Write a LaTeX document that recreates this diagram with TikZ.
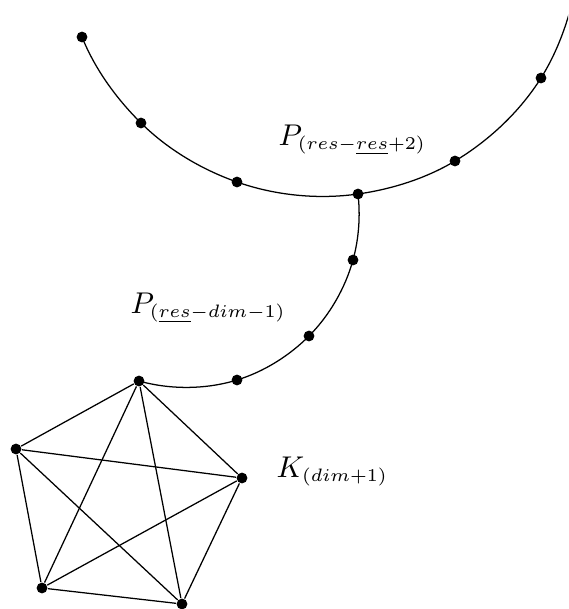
\documentclass[tikz,border=0pt]{standalone}
\DeclareMathSizes{10}{10}{5.7}{5}
\begin{document}
\begin{tikzpicture}[x=0.3333pt,y=-0.3333pt,
  dot/.style={circle,fill=black,inner sep=0pt,minimum size=3.6pt},
  lbl/.style={inner sep=0pt,anchor=base west},
  curve/.style={line width=0.42pt},
  arcseg/.style={looseness=0.85}]
\useasboundingbox (0,0) rectangle (568,609);
\clip (0,0) rectangle (568,609);
% top path
\node[dot] (a1) at (82,37) {};
\node[dot] (a2) at (141,123) {};
\node[dot] (a3) at (237,182) {};
\node[dot] (a4) at (358,194) {};
\node[dot] (a5) at (455,161) {};
\node[dot] (a6) at (541,78) {};
\coordinate (aend) at (571,7);
% middle path
\node[dot] (b1) at (353,260) {};
\node[dot] (b2) at (309,336) {};
\node[dot] (b3) at (237,380) {};
% pentagon
\node[dot] (k1) at (139,381) {};
\node[dot] (k2) at (16,449) {};
\node[dot] (k3) at (42,588) {};
\node[dot] (k4) at (182,604) {};
\node[dot] (k5) at (242,478) {};
\draw[curve,arcseg] (a1.center) to[out=292,in=135.3] (a2.center)
  to[out=315.3,in=160.6] (a3.center)
  to[out=340.6,in=188.1] (a4.center)
  to[out=8.1,in=211] (a5.center)
  to[out=31,in=237.8] (a6.center)
  to[out=57.8,in=255] (aend);
\draw[curve,arcseg] (a4.center) to[out=276.6,in=74.6] (b1.center)
  to[out=254.6,in=45.2] (b2.center)
  to[out=225.2,in=17.1] (b3.center)
  to[out=197.1,in=344.3] (k1.center);
\foreach \i/\j in {k1/k2,k1/k3,k1/k4,k1/k5,k2/k3,k2/k4,k2/k5,k3/k4,k3/k5,k4/k5}
  \draw[curve] (\i) -- (\j);
% labels
\node[lbl] (l1) at (278,145) {$P_{(res-\underline{res}+2)}$};
\node[lbl] (l2) at (130,313) {$P_{(\underline{res}-dim-1)}$};
\node[lbl] (l3) at (276,477) {$K_{(dim+1)}$};
\end{tikzpicture}
\end{document}
